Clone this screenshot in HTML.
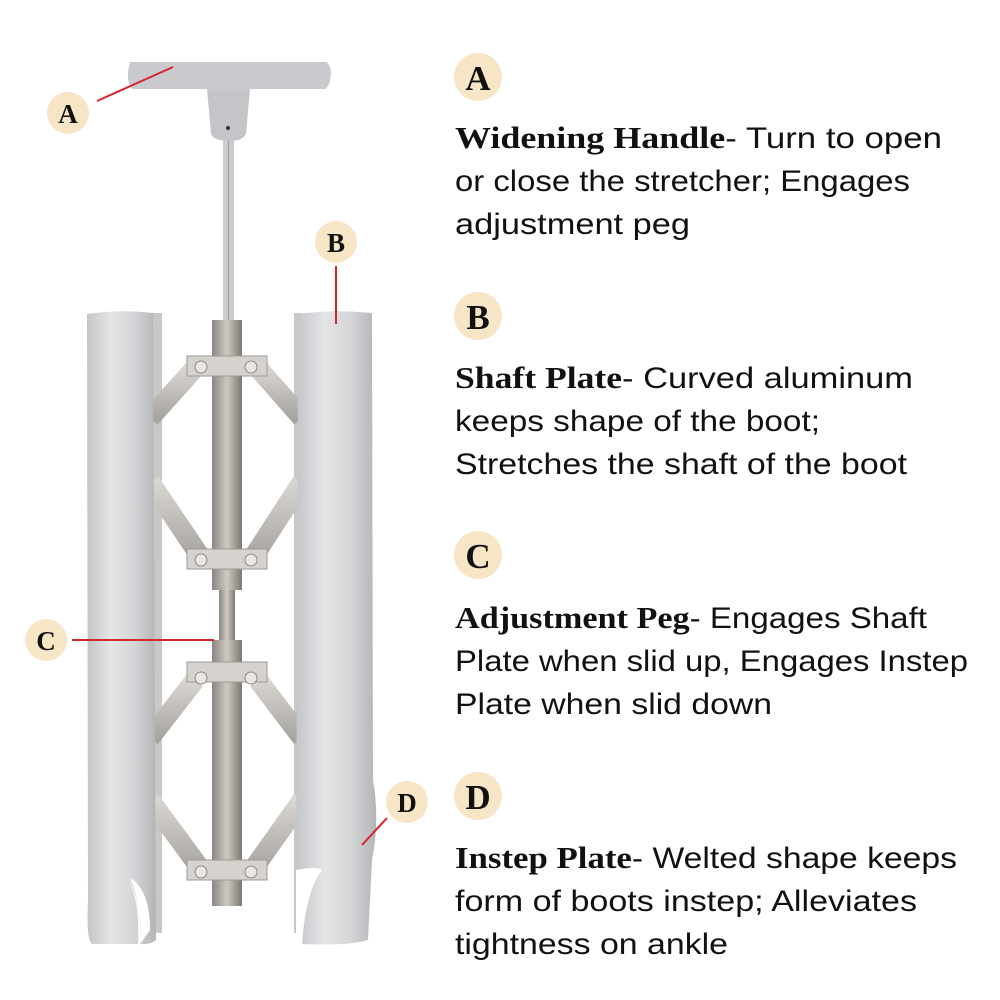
<!DOCTYPE html>
<html><head><meta charset="utf-8"><style>
html,body{margin:0;padding:0;background:#fff;width:1000px;height:1000px;overflow:hidden}
.b{font-family:"Liberation Serif",serif;font-weight:bold;font-size:31px;fill:#111}
.s{font-family:"Liberation Sans",sans-serif;font-size:30px;fill:#111}
.badge{font-family:"Liberation Serif",serif;font-weight:bold;fill:#111}
</style></head><body>
<svg width="1000" height="1000" viewBox="0 0 1000 1000" xmlns="http://www.w3.org/2000/svg">
<defs>
<linearGradient id="tube" x1="0" x2="1" y1="0" y2="0">
<stop offset="0" stop-color="#c4c5c8"/><stop offset="0.35" stop-color="#e4e5e7"/><stop offset="0.7" stop-color="#d3d4d6"/><stop offset="1" stop-color="#b3b4b7"/></linearGradient>
<linearGradient id="rod" x1="0" x2="1"><stop offset="0" stop-color="#8a8580"/><stop offset="0.5" stop-color="#cfc9c2"/><stop offset="1" stop-color="#7d7873"/></linearGradient>
<linearGradient id="link" x1="0" x2="0" y1="0" y2="1"><stop offset="0" stop-color="#d9d6d2"/><stop offset="1" stop-color="#a8a49f"/></linearGradient>
</defs>
<!-- handle -->
<path d="M130 62 L326 62 Q333 66 330 82 L326 89 L132 89 Q125 80 130 62 Z" fill="#c9cacd"/>
<path d="M207 89 L250 89 L246 134 Q242 141 230 141 Q214 141 211 134 Z" fill="#c4c5c8"/>
<circle cx="228" cy="128" r="2" fill="#333"/>
<rect x="223" y="141" width="11" height="181" fill="#cacbcd"/>
<line x1="228.5" y1="141" x2="228.5" y2="322" stroke="#9a9b9e" stroke-width="1"/>
<!-- back lips -->
<rect x="150" y="313" width="12" height="620" fill="#c9c8c6"/>
<rect x="294" y="313" width="8" height="620" fill="#c9c8c6"/>
<!-- central rod -->
<rect x="212" y="320" width="30" height="270" fill="url(#rod)"/>
<rect x="219" y="590" width="16" height="50" fill="url(#rod)"/>
<rect x="212" y="640" width="30" height="266" fill="url(#rod)"/>
<!-- links -->
<g stroke="url(#link)" stroke-width="20" stroke-linecap="butt" fill="none">
<path d="M195 368 L150 418 M258 368 L302 418"/>
<path d="M150 482 L200 556 M302 482 L254 556"/>
<path d="M195 680 L150 738 M258 680 L302 738"/>
<path d="M150 800 L200 868 M302 800 L254 868"/>
</g>
<!-- brackets -->
<rect x="187" y="356" width="80" height="20" fill="#d6d3cf" stroke="#9d9a95"/>
<rect x="187" y="549" width="80" height="20" fill="#d6d3cf" stroke="#9d9a95"/>
<rect x="187" y="662" width="80" height="20" fill="#d6d3cf" stroke="#9d9a95"/>
<rect x="187" y="860" width="80" height="20" fill="#d6d3cf" stroke="#9d9a95"/>
<g fill="#e9e7e4" stroke="#8c8985">
<circle cx="201" cy="367" r="6"/><circle cx="251" cy="367" r="6"/>
<circle cx="201" cy="560" r="6"/><circle cx="251" cy="560" r="6"/>
<circle cx="201" cy="678" r="6"/><circle cx="251" cy="678" r="6"/>
<circle cx="201" cy="872" r="6"/><circle cx="251" cy="872" r="6"/>
</g>
<!-- left tube -->
<path d="M87 314 Q120 309 153 313 L156 940 Q150 945 140 944 Q142 900 128 880 Q140 900 138 944 L92 944 Q86 940 88 900 Z" fill="url(#tube)"/>
<path d="M130 878 Q150 890 150 930 L140 944 Q142 905 130 878Z" fill="#fff"/>
<!-- right tube -->
<path d="M298 314 Q335 309 372 313 L373 780 Q380 820 372 860 L368 940 Q350 946 302 944 Q296 930 304 900 Q315 880 322 870 Q300 880 296 900 L298 314Z" fill="url(#tube)"/>
<path d="M296 870 Q318 866 322 870 Q306 890 302 944 L296 944 Z" fill="#fff"/>
<!-- red leader lines -->
<g stroke="#d7262b" stroke-width="2">
<line x1="97" y1="101" x2="173" y2="67"/>
<line x1="336" y1="266" x2="336" y2="324"/>
<line x1="72" y1="640" x2="214" y2="640"/>
<line x1="387" y1="818" x2="362" y2="845"/>
</g>
<!-- left badges -->
<g fill="#f7e6c6">
<circle cx="68" cy="113" r="21"/><circle cx="336" cy="242" r="21"/>
<circle cx="46" cy="640" r="21"/><circle cx="407" cy="802" r="21"/>
</g>
<g class="badge" text-anchor="middle" font-size="27">
<text x="68" y="123">A</text><text x="336" y="252">B</text>
<text x="46" y="650">C</text><text x="407" y="812">D</text>
</g>
<!-- right badges -->
<g fill="#f7e6c6">
<circle cx="478" cy="77" r="24"/><circle cx="478" cy="316" r="24"/>
<circle cx="478" cy="555" r="24"/><circle cx="478" cy="796" r="24"/>
</g>
<g class="badge" text-anchor="middle" font-size="35">
<text x="478" y="90">A</text><text x="478" y="329">B</text>
<text x="478" y="568">C</text><text x="478" y="809">D</text>
</g>
<!-- descriptions -->
<text x="455" y="148" textLength="487" lengthAdjust="spacingAndGlyphs"><tspan class="b">Widening Handle</tspan><tspan class="s">- Turn to open</tspan></text>
<text class="s" x="455" y="191" textLength="455" lengthAdjust="spacingAndGlyphs">or close the stretcher; Engages</text>
<text class="s" x="455" y="234" textLength="235" lengthAdjust="spacingAndGlyphs">adjustment peg</text>

<text x="455" y="388" textLength="458" lengthAdjust="spacingAndGlyphs"><tspan class="b">Shaft Plate</tspan><tspan class="s">- Curved aluminum</tspan></text>
<text class="s" x="455" y="431" textLength="365" lengthAdjust="spacingAndGlyphs">keeps shape of the boot;</text>
<text class="s" x="455" y="474" textLength="452" lengthAdjust="spacingAndGlyphs">Stretches the shaft of the boot</text>

<text x="455" y="628" textLength="472" lengthAdjust="spacingAndGlyphs"><tspan class="b">Adjustment Peg</tspan><tspan class="s">- Engages Shaft</tspan></text>
<text class="s" x="455" y="671" textLength="513" lengthAdjust="spacingAndGlyphs">Plate when slid up, Engages Instep</text>
<text class="s" x="455" y="714" textLength="317" lengthAdjust="spacingAndGlyphs">Plate when slid down</text>

<text x="455" y="868" textLength="502" lengthAdjust="spacingAndGlyphs"><tspan class="b">Instep Plate</tspan><tspan class="s">- Welted shape keeps</tspan></text>
<text class="s" x="455" y="911" textLength="462" lengthAdjust="spacingAndGlyphs">form of boots instep; Alleviates</text>
<text class="s" x="455" y="954" textLength="273" lengthAdjust="spacingAndGlyphs">tightness on ankle</text>
</svg>
</body></html>
